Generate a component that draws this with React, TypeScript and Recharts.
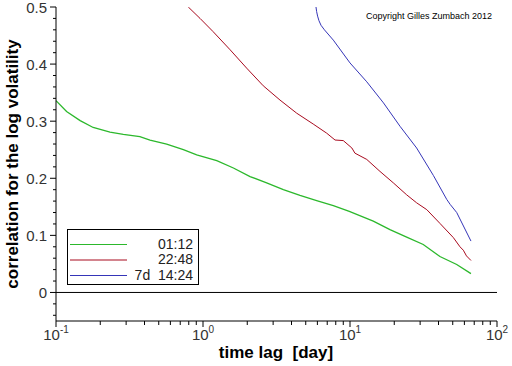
import React from "react";
import { LineChart, Line, XAxis, YAxis, ReferenceLine, Legend } from "recharts";

// time lag [day] and correlation values per series
const greenLags = [0.1, 0.118, 0.146, 0.179, 0.233, 0.287, 0.372, 0.436, 0.566, 0.735, 0.906, 1.24, 1.61, 2.09, 2.71, 3.52, 4.57, 5.93, 7.7, 9.89, 14.4, 18.7, 24.3, 31.5, 40.9, 53.2, 66.5];
const greenValues = [0.336, 0.317, 0.301, 0.289, 0.281, 0.277, 0.273, 0.267, 0.26, 0.25, 0.241, 0.231, 0.218, 0.203, 0.192, 0.18, 0.17, 0.161, 0.152, 0.142, 0.125, 0.11, 0.097, 0.084, 0.063, 0.049, 0.033];

const redLags = [0.794, 0.955, 1.17, 1.53, 1.98, 2.57, 3.34, 4.34, 5.62, 6.94, 7.91, 9.0, 10.3, 10.8, 13.0, 16.0, 19.7, 24.3, 28.4, 33.3, 40.9, 50.5, 56.0, 59.0, 62.0, 66.5];
const redValues = [0.5, 0.48, 0.457, 0.425, 0.393, 0.362, 0.337, 0.314, 0.295, 0.279, 0.267, 0.266, 0.253, 0.244, 0.233, 0.212, 0.192, 0.171, 0.157, 0.145, 0.121, 0.096, 0.08, 0.074, 0.064, 0.056];

const blueLags = [5.87, 5.93, 6.02, 6.15, 6.35, 6.7, 7.7, 10.0, 13.0, 16.9, 21.9, 28.4, 36.9, 45.5, 48.1, 53.2, 66.5];
const blueValues = [0.5, 0.492, 0.484, 0.476, 0.468, 0.46, 0.442, 0.402, 0.369, 0.332, 0.291, 0.253, 0.205, 0.163, 0.154, 0.14, 0.09];

const seriesNames = ["01:12", "22:48", "7d  14:24"];
const seriesColors = ["#2cb82c", "#a80a1e", "#3535b8"];

const xTicks = [0.1, 0.2, 0.3, 0.4, 0.5, 0.6, 0.7, 0.8, 0.9, 1, 2, 3, 4, 5, 6, 7, 8, 9, 10, 20, 30, 40, 50, 60, 70, 80, 90, 100];
const yTicks = [-0.04, -0.02, 0, 0.02, 0.04, 0.06, 0.08, 0.1, 0.12, 0.14, 0.16, 0.18, 0.2, 0.22, 0.24, 0.26, 0.28, 0.3, 0.32, 0.34, 0.36, 0.38, 0.4, 0.42, 0.44, 0.46, 0.48, 0.5];

const toRows = (ts: number[], vs: number[]) => ts.map((t, i) => ({ t, v: vs[i] }));
const greenData = toRows(greenLags, greenValues);
const redData = toRows(redLags, redValues);
const blueData = toRows(blueLags, blueValues);

const FONT = "'Liberation Sans', Arial, sans-serif";

const isPow10 = (v: number) => Math.abs(Math.log10(v) - Math.round(Math.log10(v))) < 1e-9;

const XTick = (props: any) => {
  const { x, y, payload } = props;
  const v = payload.value;
  const major = isPow10(v);
  const exp = Math.round(Math.log10(v));
  return (
    <g>
      <line x1={x} x2={x} y1={y} y2={y + (major ? 6 : 4)} stroke="#000" strokeWidth={1} />
      {major && (
        <text x={x} y={y + 19} textAnchor="middle" fontFamily={FONT} fontSize={15} fill="#333">
          <tspan>10</tspan>
          <tspan dy={-7} fontSize={10}>{String(exp)}</tspan>
        </text>
      )}
    </g>
  );
};

const YTick = (props: any) => {
  const { x, y, payload } = props;
  const v = payload.value;
  const major = Math.abs(v * 10 - Math.round(v * 10)) < 1e-6;
  const label = Math.abs(v) < 1e-9 ? "0" : v.toFixed(1);
  return (
    <g>
      <line x1={x - (major ? 6 : 3)} x2={x} y1={y} y2={y} stroke="#000" strokeWidth={1} />
      {major && (
        <text x={x - 9} y={y + 5.5} textAnchor="end" fontFamily={FONT} fontSize={15} fill="#333">
          {label}
        </text>
      )}
    </g>
  );
};

const LegendBox = () => (
  <svg width={133} height={57} style={{ display: "block" }}>
    <rect x={0.5} y={0.5} width={131} height={55} fill="#fff" stroke="#000" strokeWidth={1} />
    {seriesNames.map((name, i) => (
      <g key={name}>
        <line x1={3} x2={60} y1={15.5 + i * 15.5} y2={15.5 + i * 15.5} stroke={seriesColors[i]} strokeWidth={1} />
        <text x={126} y={19.5 + i * 15.5} textAnchor="end" fontFamily={FONT} fontSize={14} fill="#222" style={{ whiteSpace: "pre" }}>
          {name}
        </text>
      </g>
    ))}
  </svg>
);

export default function App() {
  return (
    <div style={{ position: "absolute", left: 0, top: 0, width: 512, height: 366, background: "#fff" }}>
      <LineChart width={512} height={366} margin={{ top: 7, right: 15, bottom: 0, left: 0 }}>
        <XAxis
          dataKey="t"
          type="number"
          scale="log"
          domain={[0.1, 100]}
          allowDataOverflow
          ticks={xTicks}
          interval={0}
          tick={<XTick />}
          tickLine={false}
          tickSize={0}
          tickMargin={0}
          height={45}
          axisLine={{ stroke: "#000", strokeWidth: 1 }}
          label={{
            content: () => (
              <text x={276} y={358} textAnchor="middle" fontFamily={FONT} fontSize={17} fontWeight="bold" fill="#000" style={{ whiteSpace: "pre" }}>
                {"time lag  [day]"}
              </text>
            ),
          }}
        />
        <YAxis
          type="number"
          domain={[-0.05, 0.5]}
          allowDataOverflow
          ticks={yTicks}
          interval={0}
          tick={<YTick />}
          tickLine={false}
          tickSize={0}
          tickMargin={0}
          width={56}
          axisLine={{ stroke: "#000", strokeWidth: 1 }}
          label={{
            content: () => (
              <text x={18} y={164} transform="rotate(-90, 18, 164)" textAnchor="middle" fontFamily={FONT} fontSize={17} fontWeight="bold" fill="#000">
                correlation for the log volatility
              </text>
            ),
          }}
        />
        <ReferenceLine y={0} stroke="#000" strokeWidth={1} ifOverflow="extendDomain" />
        <Line data={greenData} dataKey="v" name={seriesNames[0]} stroke={seriesColors[0]} strokeWidth={1.3} dot={false} isAnimationActive={false} />
        <Line data={redData} dataKey="v" name={seriesNames[1]} stroke={seriesColors[1]} strokeWidth={1} dot={false} isAnimationActive={false} />
        <Line data={blueData} dataKey="v" name={seriesNames[2]} stroke={seriesColors[2]} strokeWidth={1} dot={false} isAnimationActive={false} />
        <Legend
          layout="vertical"
          align="center"
          verticalAlign="middle"
          content={() => <LegendBox />}
          wrapperStyle={{ position: "absolute", left: 67, top: 229, width: 133, height: 57 }}
        />
      </LineChart>
      <svg width={512} height={30} style={{ position: "absolute", left: 0, top: 0, pointerEvents: "none" }}>
        <text x={492} y={19} textAnchor="end" fontFamily={FONT} fontSize={9} fill="#000">
          Copyright Gilles Zumbach 2012
        </text>
      </svg>
    </div>
  );
}
